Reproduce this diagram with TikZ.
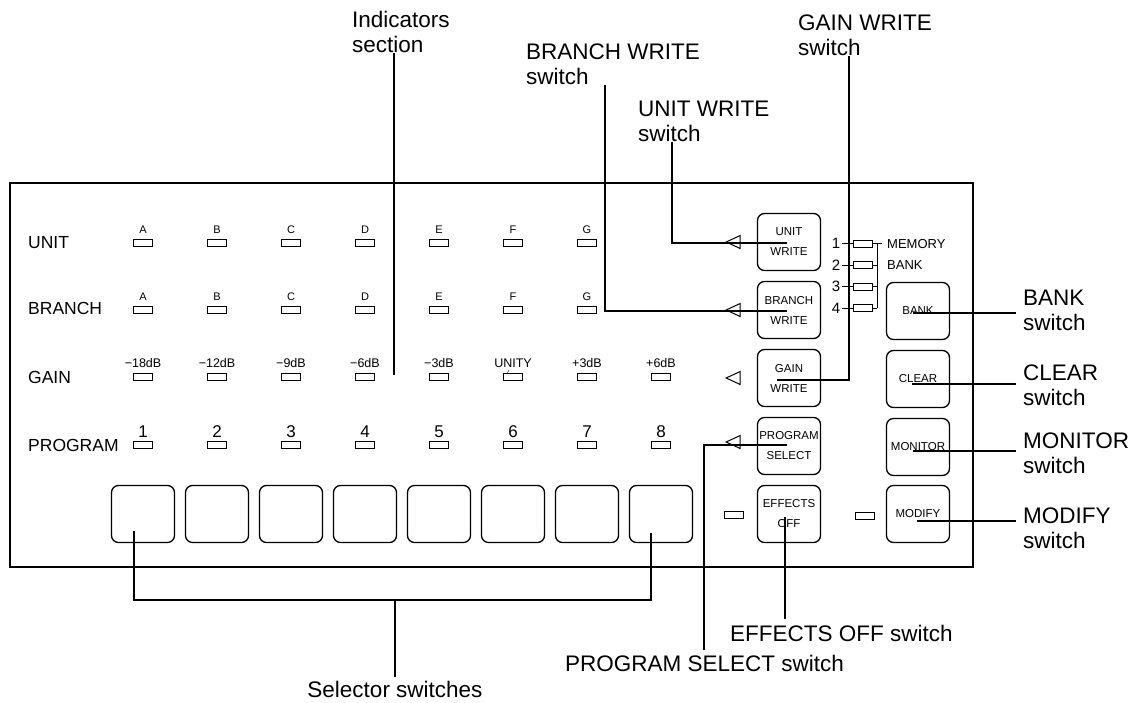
\documentclass[tikz,border=0pt]{standalone}
\usepackage{fontspec}
\setmainfont{Liberation Sans}
\usetikzlibrary{shapes.geometric}

\begin{document}
\begin{tikzpicture}[x=1pt, y=-1pt,
  every node/.style = {inner sep=0pt},
  panel/.style = {line width=1.5pt},
  ledbox/.style = {draw, line width=0.9pt, minimum width=19pt, minimum height=7pt},
  ledtext/.style = {font=\fontsize{11}{12}\selectfont, anchor=south},
  gaintext/.style = {font=\fontsize{12.5}{14}\selectfont, anchor=south},
  numtext/.style = {font=\fontsize{17}{19}\selectfont, anchor=south},
  rowtext/.style = {font=\fontsize{17.5}{20}\selectfont, anchor=west},
  memtext/.style = {font=\fontsize{13}{15}\selectfont},
  memnum/.style = {font=\fontsize{15}{17}\selectfont},
  keybox/.style = {draw, line width=1.3pt, rounded corners=7pt,
    minimum width=63pt, minimum height=57pt, align=center,
    font=\fontsize{11.5}{20}\selectfont},
  pointer/.style = {draw, line width=1pt, isosceles triangle,
    isosceles triangle apex angle=50, isosceles triangle stretches,
    shape border rotate=180, minimum width=13pt, minimum height=14pt},
  callout/.style = {font=\fontsize{22.5}{25}\selectfont, align=left},
  sidecall/.style = {callout, inner xsep=7pt, anchor=west},
  leader/.style = {line width=1.1pt}]
\useasboundingbox (0,0) rectangle (1138,702);
\draw[panel] (10,183) rectangle (973,567);

\node[rowtext] (unit) at (28,243) {UNIT};
\node[rowtext] (branch) at (28,308) {BRANCH};
\node[rowtext] (gain) at (28,377) {GAIN};
\node[rowtext] (program) at (28,445) {PROGRAM};

\foreach \t [count=\i] in {A,B,C,D,E,F,G} {
  \node[ledbox] (u\i) at (69+74*\i,243) {};
  \node[ledtext] (ut\i) at (69+74*\i,234) {\t};
  \node[ledbox] (b\i) at (69+74*\i,310) {};
  \node[ledtext] (bt\i) at (69+74*\i,301) {\t};
}
\foreach \t [count=\i] in {−18dB,−12dB,−9dB,−6dB,−3dB,UNITY,+3dB,+6dB} {
  \node[ledbox] (g\i) at (69+74*\i,377) {};
  \node[gaintext] (gt\i) at (69+74*\i,368) {\t};
  \node[ledbox] (p\i) at (69+74*\i,445) {};
  \node[numtext] (pt\i) at (69+74*\i,438) {\i};
  \node[keybox] (sel\i) at (69+74*\i,514) {};
}
\draw[thin] (509,370) -- (507,374);

\node[keybox] (uwk) at (789,242) {UNIT\\WRITE};
\node[keybox] (bwk) at (789,310) {BRANCH\\WRITE};
\node[keybox] (gwk) at (789,378) {GAIN\\WRITE};
\node[keybox] (psk) at (789,446) {PROGRAM\\SELECT};
\node[keybox] (eok) at (789,514) {EFFECTS\\OFF};
\node[keybox] (bank) at (918,311) {BANK};
\node[keybox] (clear) at (918,379) {CLEAR};
\node[keybox] (monitor) at (918,447) {MONITOR};
\node[keybox] (modify) at (918,514) {MODIFY};

\node[pointer] (uwp) at (736,242) {};
\node[pointer] (bwp) at (736,310) {};
\node[pointer] (gwp) at (736,378) {};
\node[pointer] (psp) at (736,442) {};

\node[ledbox] (eoled) at (734,515) {};
\node[ledbox] (moled) at (865,516) {};

\foreach \n in {1,...,4} {
  \node[ledbox] (m\n) at (863,222+21.5*\n) {};
  \node[memnum] (mn\n) at (836,222+21.5*\n) {\n};
  \draw[thin] ([xshift=2pt]mn\n.east) -- (m\n.west);
  \draw[thin] (m\n.east) -- (877,222+21.5*\n);
}
\draw[thin] (877,243.5) -- (877,308);
\draw[thin] (877,243.5) -- (882,243.5);
\node[memtext, anchor=west] (memory) at (887,244) {MEMORY};
\node[memtext, anchor=west] (memb) at (887,265) {BANK};

\coordinate (indend) at (394,375);
\coordinate (bwend) at (787,311);
\coordinate (uwend) at (787,243);
\coordinate (gwend) at (777,380);
\coordinate (bkend) at (913,313);
\coordinate (clend) at (912,384);
\coordinate (moend) at (913,451);
\coordinate (mdend) at (917,521);
\coordinate (eoend) at (785,517);
\coordinate (psend) at (787,445);
\coordinate (sel1end) at (134,531);
\coordinate (sel8end) at (651,533);
\coordinate (selmid) at (395,600);

\node[callout, anchor=north west] (indt) at (352,11) {Indicators\\section};
\node[callout, anchor=north west] (bwt) at (526,44) {BRANCH WRITE\\switch};
\node[callout, anchor=north west] (uwt) at (638,101) {UNIT WRITE\\switch};
\node[callout, anchor=north west] (gwt) at (798,15) {GAIN WRITE\\switch};
\node[sidecall] (bkt) at (1016,310) {BANK\\switch};
\node[sidecall] (clt) at (1016,385) {CLEAR\\switch};
\node[sidecall] (mot) at (1016,453) {MONITOR\\switch};
\node[sidecall] (mdt) at (1016,528) {MODIFY\\switch};
\node[callout, anchor=north west] (eot) at (730,625) {EFFECTS OFF switch};
\node[callout, anchor=north west] (pst) at (565,655) {PROGRAM SELECT switch};
\node[callout, anchor=north] (selt) at (395,681) {Selector switches};

\draw[leader] ([xshift=42pt]indt.south west) -- (indend);
\draw[leader] ([xshift=79pt]bwt.south west) |- (bwend);
\draw[leader] ([xshift=34pt]uwt.south west) |- (uwend);
\draw[leader] ([xshift=51pt]gwt.south west) |- (gwend);
\draw[leader] (bkend) -- (bkend -| bkt.west);
\draw[leader] (clend) -- (clend -| clt.west);
\draw[leader] (moend) -- (moend -| mot.west);
\draw[leader] (mdend) -- (mdend -| mdt.west);
\draw[leader] (eoend) -- ([xshift=55pt,yshift=6pt]eot.north west);
\draw[leader] (psend) -| ([xshift=139pt,yshift=5pt]pst.north west);
\draw[leader] (sel1end) |- (selmid) -| (sel8end);
\draw[leader] (selmid) -- ([yshift=4pt]selt.north);
\end{tikzpicture}
\end{document}
